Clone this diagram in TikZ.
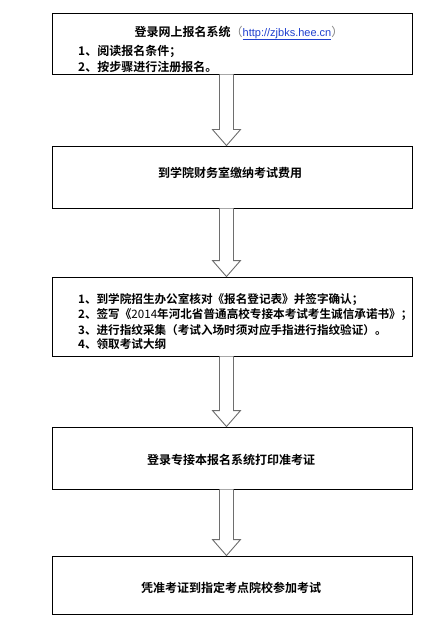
\documentclass[tikz,border=0pt]{standalone}
\usepackage{fontspec}
\usetikzlibrary{calc}
\setmainfont{Noto Sans CJK SC}[BoldFont={Noto Sans CJK SC Bold}]
\newfontfamily\urlfont{Liberation Sans}
\definecolor{arrgray}{HTML}{6E6E6E}
\definecolor{urlblue}{HTML}{1F3FCF}
\tikzset{
  box/.style={draw=black, line width=0.9pt, fill=white, minimum width=360pt, inner sep=0pt},
  txt/.style={font=\fontsize{12}{14}\selectfont\bfseries, inner sep=0pt, text=black},
  item/.style={txt, anchor=west},
  smallitem/.style={item, font=\fontsize{11.6}{14}\selectfont\bfseries},
  blockarr/.style={draw=arrgray, line width=0.9pt, fill=white, line join=miter}
}
\newcommand\blockarrow[2]{%
  \draw[blockarr] let \p1=(#1.south), \p2=(#2.north) in
    (\x1-12.5pt,\y1) -- (\x1-12.5pt,\y2+16pt) -- (\x1-19.5pt,\y2+16pt) --
    (\x1-5.5pt,\y2) -- (\x1+8.5pt,\y2+16pt) -- (\x1+1.5pt,\y2+16pt) -- (\x1+1.5pt,\y1);}
\begin{document}
\begin{tikzpicture}[x=1pt,y=-1pt]
\useasboundingbox[fill=white] (0,0) rectangle (443,620);
% boxes
\node[box, minimum height=61pt] (b1) at (232,43.5) {};
\node[box, minimum height=62pt] (b2) at (232,177) {};
\node[box, minimum height=79pt] (b3) at (232,316.5) {};
\node[box, minimum height=62pt] (b4) at (232,458) {};
\node[box, minimum height=58pt] (b5) at (232,585) {};
% arrows
\blockarrow{b1}{b2}
\blockarrow{b2}{b3}
\blockarrow{b3}{b4}
\blockarrow{b4}{b5}
% texts box 1
\node[txt] (t1) at (239,33) {登录网上报名系统{\mdseries\color{gray}（}{\urlfont\mdseries\fontsize{11}{13}\selectfont\color{urlblue}\underline{http://zjbks.hee.cn}}{\mdseries\color{gray}）}};
\node[item] (t1a) at (78,51.5) {1、阅读报名条件；};
\node[item] (t1b) at (78,67) {2、按步骤进行注册报名。};
% box 2
\node[txt] (t2) at (230,173) {到学院财务室缴纳考试费用};
% box 3
\node[smallitem] (t3a) at (78,300) {1、到学院招生办公室核对《报名登记表》并签字确认；};
\node[smallitem] (t3b) at (78,315) {2、签写《{\mdseries 2014}年河北省普通高校专接本考试考生诚信承诺书》；};
\node[smallitem] (t3c) at (78,330) {3、进行指纹采集（考试入场时须对应手指进行指纹验证）。};
\node[smallitem] (t3d) at (78,344.5) {4、领取考试大纲};
% box 4
\node[txt] (t4) at (231,460) {登录专接本报名系统打印准考证};
% box 5
\node[txt] (t5) at (231,588) {凭准考证到指定考点院校参加考试};
\end{tikzpicture}
\end{document}
